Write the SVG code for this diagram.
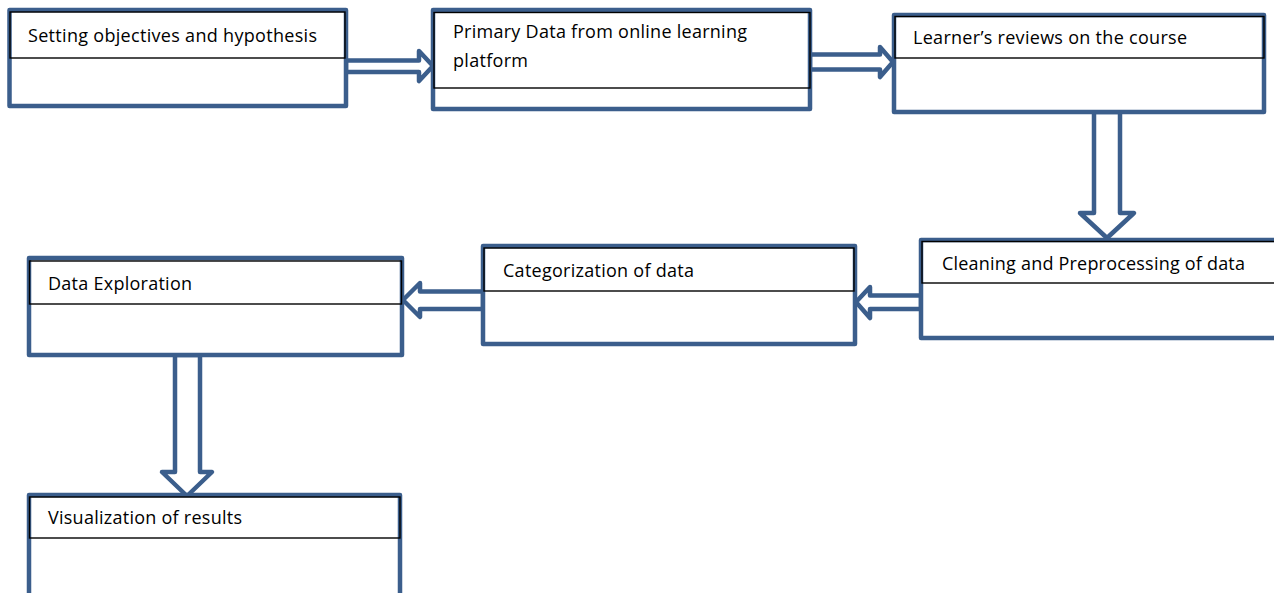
<svg xmlns="http://www.w3.org/2000/svg" width="1274" height="593" viewBox="0 0 1274 593">
  <style>
    .frame { fill: #ffffff; stroke: #3b5e8c; stroke-width: 4.5; stroke-linejoin: round; }
    .head { fill: none; stroke: #000000; stroke-width: 1.4; }
    .arrow { fill: #ffffff; stroke: #3b5e8c; stroke-width: 4.5; stroke-linejoin: round; }
    .label { font-family: "Open Sans", "Liberation Sans", sans-serif; font-size: 18px; fill: #000000; }
  </style>
  <rect width="1274" height="593" fill="#ffffff"/>

  <!-- block arrows between the steps -->
  <g id="connectors">
    <polygon class="arrow" points="346,60.5 419,60.5 419,51 433,66 419,81 419,72 346,72"/>
    <polygon class="arrow" points="810,54.5 880,54.5 880,47 893,62 880,77 880,69.5 810,69.5"/>
    <polygon class="arrow" points="1094,112 1094,213 1080,213 1107,238 1134,213 1120,213 1120,112"/>
    <polygon class="arrow" points="921,295.5 870,295.5 870,287 856,302 870,318 870,309 921,309"/>
    <polygon class="arrow" points="483,291.5 420,291.5 420,283 403,300 420,317 420,309 483,309"/>
    <polygon class="arrow" points="175,355 175,472 162,472 187,496 212,472 200,472 200,355"/>
  </g>

  <g id="step-objectives">
    <rect class="frame" x="9.5" y="10" width="336.5" height="96"/>
    <rect class="head" x="10" y="12" width="335" height="46"/>
    <text class="label" x="28" y="42" textLength="289">Setting objectives and hypothesis</text>
  </g>

  <g id="step-primary-data">
    <rect class="frame" x="433" y="10" width="377" height="99"/>
    <rect class="head" x="434" y="12.5" width="376" height="75.5"/>
    <text class="label" x="453" y="38" textLength="294">Primary Data from online learning</text>
    <text class="label" x="453" y="67" textLength="75">platform</text>
  </g>

  <g id="step-reviews">
    <rect class="frame" x="894" y="15" width="370" height="97"/>
    <rect class="head" x="895" y="16.5" width="369" height="41.5"/>
    <text class="label" x="913" y="44" textLength="274">Learner’s reviews on the course</text>
  </g>

  <g id="step-cleaning">
    <rect class="frame" x="921" y="240" width="362" height="98"/>
    <rect class="head" x="922" y="241.5" width="358" height="41.5"/>
    <text class="label" x="942" y="270" textLength="303">Cleaning and Preprocessing of data</text>
  </g>

  <g id="step-categorization">
    <rect class="frame" x="483" y="246" width="372" height="98"/>
    <rect class="head" x="484" y="248" width="370" height="43"/>
    <text class="label" x="503" y="277" textLength="191">Categorization of data</text>
  </g>

  <g id="step-exploration">
    <rect class="frame" x="29" y="258" width="373" height="97"/>
    <rect class="head" x="29.5" y="261" width="372" height="43"/>
    <text class="label" x="48" y="290" textLength="144">Data Exploration</text>
  </g>

  <g id="step-visualization">
    <rect class="frame" x="29" y="495" width="371" height="110"/>
    <rect class="head" x="29.5" y="497" width="370.5" height="41"/>
    <text class="label" x="48" y="524" textLength="194">Visualization of results</text>
  </g>
</svg>
